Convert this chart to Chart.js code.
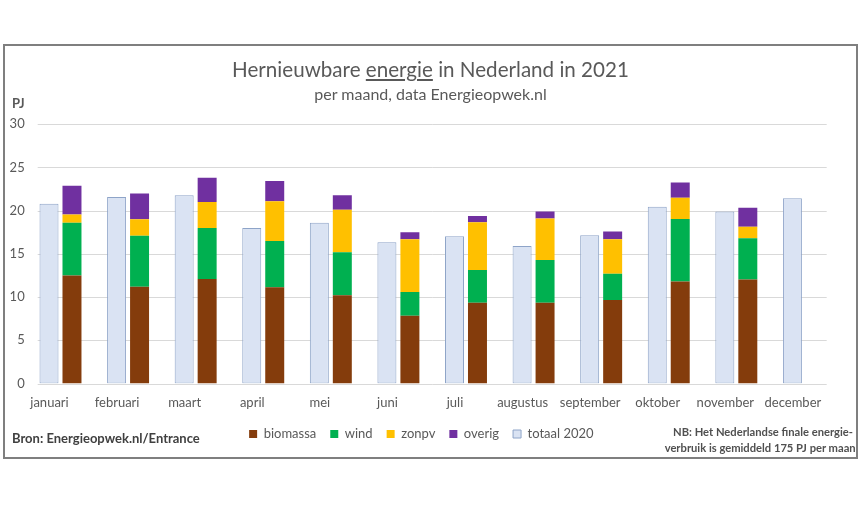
<!DOCTYPE html>
<html>
<head>
<meta charset="utf-8">
<script src="https://cdn.jsdelivr.net/npm/chart.js@4.4.1/dist/chart.umd.min.js"></script>
<style>
  body { margin: 0; background: #fff; font-family: Lato, sans-serif; }
  #wrap { position: absolute; left: 0; top: 0; width: 861px; height: 508px; overflow: hidden; }
  #grafiek { position: absolute; left: 5px; top: 46px; }
  #kader { position: absolute; left: 3px; top: 44px; width: 851px; height: 411px; border: 2px solid #7f7f7f; pointer-events: none; }
  #clip { position: absolute; left: 5px; top: 46px; width: 851px; height: 411px; overflow: hidden; pointer-events: none; }
  .tekst { position: absolute; color: #595959; white-space: nowrap; }
  #titel { left: 0; width: 851px; top: 11px; text-align: center; font-size: 20.6px; }
  #subtitel { left: 0; width: 851px; top: 38px; text-align: center; font-size: 16px; }
  #eenheid { left: 7px; top: 49px; font-size: 13px; font-weight: bold; }
  #bron { left: 7px; top: 384px; font-size: 13px; font-weight: bold; color: #404040; }
  .nb { font-size: 11.2px; font-weight: bold; color: #505050; text-align: right; }
  #nb1 { right: 3px; top: 379px; }
  #nb2 { right: -6px; top: 395px; }
</style>
</head>
<body>
<div id="wrap">
  <canvas id="grafiek" width="851" height="411"></canvas>
  <div id="clip">
    <div class="tekst" id="titel">Hernieuwbare <u>energie</u> in Nederland in 2021</div>
    <div class="tekst" id="subtitel">per maand, data Energieopwek.nl</div>
    <div class="tekst" id="eenheid">PJ</div>
    <div class="tekst" id="bron">Bron: Energieopwek.nl/Entrance</div>
    <div class="tekst nb" id="nb1">NB: Het Nederlandse finale energie-</div>
    <div class="tekst nb" id="nb2">verbruik is gemiddeld 175 PJ per maand</div>
  </div>
  <div id="kader"></div>
</div>
<script>
// data in PJ per maand
const maanden = ['januari', 'februari', 'maart', 'april', 'mei', 'juni', 'juli',
                 'augustus', 'september', 'oktober', 'november', 'december'];
const totaal2020 = [20.8, 21.6, 21.8, 18.0, 18.6, 16.35, 17.05, 15.9, 17.15, 20.45, 19.9, 21.45];
const biomassa = [12.5, 11.2, 12.1, 11.15, 10.2, 7.85, 9.35, 9.35, 9.65, 11.8, 12.05, null];
const wind = [6.1, 5.9, 5.9, 5.35, 5.0, 2.75, 3.8, 4.95, 3.05, 7.25, 4.75, null];
const zonpv = [0.95, 1.9, 3.0, 4.6, 4.9, 6.1, 5.5, 4.8, 4.0, 2.45, 1.35, null];
const overig = [3.35, 3.0, 2.8, 2.35, 1.7, 0.8, 0.75, 0.8, 0.9, 1.75, 2.2, null];
const yTicks = [0, 5, 10, 15, 20, 25, 30];

const grijs = '#595959';

// horizontale rasterlijnen, iets korter dan het plotgebied (zoals in het origineel)
const rasterPlugin = {
    id: 'raster',
    beforeDatasetsDraw(chart) {
        const ctx = chart.ctx;
        const y = chart.scales.y;
        const links = chart.chartArea.left + 11;
        const rechts = chart.chartArea.right - 11;
        ctx.save();
        ctx.strokeStyle = '#d9d9d9';
        ctx.lineWidth = 1;
        yTicks.forEach(v => {
            const py = Math.round(y.getPixelForValue(v)) + 0.5;
            ctx.beginPath();
            ctx.moveTo(links, py);
            ctx.lineTo(rechts, py);
            ctx.stroke();
        });
        ctx.restore();
    }
};

function staaf(label, data, kleur, stapel) {
    return {
        label: label,
        data: data,
        backgroundColor: kleur,
        borderWidth: 0,
        stack: stapel,
        categoryPercentage: 0.68,
        barPercentage: 0.826
    };
}

const datasets = [
    {
        label: 'totaal 2020',
        data: totaal2020,
        backgroundColor: '#dae3f3',
        borderColor: '#8ea4c8',
        borderWidth: 1,
        borderSkipped: false,
        stack: 'vorig',
        categoryPercentage: 0.68,
        barPercentage: 0.826
    },
    staaf('biomassa', biomassa, '#843c0c', 'nu'),
    staaf('wind', wind, '#00b050', 'nu'),
    staaf('zonpv', zonpv, '#ffc000', 'nu'),
    staaf('overig', overig, '#7030a0', 'nu')
];

Chart.defaults.font.family = 'Lato, sans-serif';
Chart.defaults.color = grijs;

new Chart(document.getElementById('grafiek'), {
    type: 'bar',
    data: { labels: maanden, datasets: datasets },
    options: {
        responsive: false,
        animation: false,
        layout: { padding: { top: 78.3, right: 18.3, bottom: 6.5, left: 0 } },
        scales: {
            x: {
                stacked: true,
                grid: { display: false, drawTicks: false },
                border: { display: false },
                ticks: { font: { size: 13 }, color: grijs, padding: 12, labelOffset: -11, maxRotation: 0 },
                afterFit(scale) { scale.height = 30; }
            },
            y: {
                stacked: true,
                min: 0,
                max: 30,
                grid: { display: false, drawTicks: false },
                border: { display: false },
                ticks: { stepSize: 5, font: { size: 13 }, color: grijs, padding: 2 },
                afterFit(scale) { scale.width = 21.7; }
            }
        },
        plugins: {
            legend: {
                position: 'bottom',
                labels: {
                    boxWidth: 8,
                    boxHeight: 8,
                    padding: 14,
                    font: { size: 13 },
                    color: grijs,
                    sort: (a, b) => {
                        const pa = a.datasetIndex === 0 ? 99 : a.datasetIndex;
                        const pb = b.datasetIndex === 0 ? 99 : b.datasetIndex;
                        return pa - pb;
                    }
                }
            },
            title: { display: false },
            tooltip: { enabled: false }
        }
    },
    plugins: [rasterPlugin]
});
</script>
</body>
</html>
